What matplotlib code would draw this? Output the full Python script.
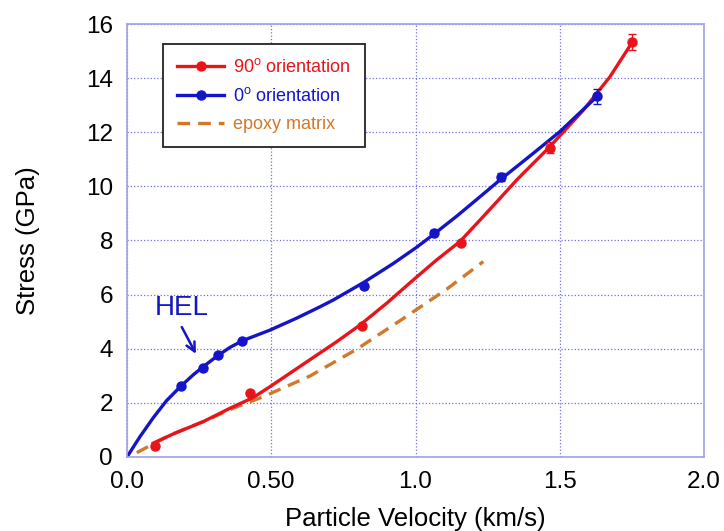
import matplotlib
matplotlib.use("Agg")
import matplotlib.pyplot as plt
from matplotlib.lines import Line2D

plt.rcParams['font.family'] = ['Liberation Sans', 'DejaVu Sans']

# measured points (km/s, GPa)
u90 = [0.096, 0.426, 0.813, 1.156, 1.465, 1.752]
s90 = [0.40, 2.35, 4.83, 7.91, 11.43, 15.34]
e90 = [0.05, 0.05, 0.05, 0.08, 0.2, 0.3]

u0 = [0.187, 0.264, 0.315, 0.399, 0.823, 1.065, 1.297, 1.630]
s0 = [2.64, 3.29, 3.77, 4.29, 6.33, 8.29, 10.36, 13.33]
e0 = [0.05, 0.05, 0.05, 0.05, 0.08, 0.1, 0.15, 0.28]

# fit curves
fit90_u = [0.091, 0.16, 0.265, 0.357, 0.438, 0.496, 0.646, 0.727, 0.808, 0.9, 0.992,
           1.073, 1.154, 1.224, 1.293, 1.351, 1.466, 1.582, 1.674, 1.749]
fit90_s = [0.51, 0.85, 1.31, 1.80, 2.2, 2.6, 3.68, 4.26, 4.88, 5.68, 6.54,
           7.28, 7.96, 8.76, 9.56, 10.24, 11.47, 12.82, 14.05, 15.29]

fit0_u = [0.0, 0.045, 0.091, 0.137, 0.187, 0.23, 0.267, 0.314, 0.357, 0.401, 0.496,
          0.588, 0.669, 0.715, 0.819, 0.923, 1.004, 1.062, 1.143, 1.224, 1.293,
          1.408, 1.5, 1.628]
fit0_s = [0.0, 0.75, 1.45, 2.08, 2.62, 3.04, 3.36, 3.74, 4.05, 4.3, 4.69,
          5.13, 5.55, 5.8, 6.44, 7.15, 7.75, 8.22, 8.9, 9.62, 10.24,
          11.22, 12.02, 13.31]

epoxy_u = [0.034, 0.149, 0.265, 0.368, 0.473, 0.634, 0.796, 0.958, 1.108, 1.235]
epoxy_s = [0.16, 0.81, 1.31, 1.8, 2.23, 2.99, 3.98, 5.12, 6.2, 7.22]

xticks = [0.0, 0.5, 1.0, 1.5, 2.0]
xticklabels = ['0.0', '0.50', '1.0', '1.5', '2.0']
yticks = [0, 2, 4, 6, 8, 10, 12, 14, 16]

red = '#e8141c'
blue = '#1414c8'
orange = '#d2782a'

fig = plt.figure(figsize=(7.24, 5.31), dpi=100)
ax = fig.add_axes([0.1754, 0.1394, 0.797, 0.8154])

ax.plot(epoxy_u, epoxy_s, '--', color=orange, lw=2.4, dashes=(3.8, 2.4))
ax.plot(fit90_u, fit90_s, '-', color=red, lw=2.4, solid_joinstyle='round')
ax.plot(fit0_u, fit0_s, '-', color=blue, lw=2.4, solid_joinstyle='round')
ax.errorbar(u90, s90, yerr=e90, fmt='o', color=red, ms=6.5, capsize=3, elinewidth=1)
ax.errorbar(u0, s0, yerr=e0, fmt='o', color=blue, ms=6.5, capsize=3, elinewidth=1)

ax.text(0.19, 5.5, 'HEL', color=blue, fontsize=20, ha='center', va='center')
ax.annotate('', xy=(0.239, 3.81), xytext=(0.19, 4.8),
            arrowprops=dict(arrowstyle='->', color=blue, lw=1.8, shrinkA=0, shrinkB=0,
                            mutation_scale=16))

ax.set_xlim(0, 2.0)
ax.set_ylim(0, 16)
ax.set_xticks(xticks)
ax.set_xticklabels(xticklabels)
ax.set_yticks(yticks)
ax.tick_params(labelsize=17.5, length=0, pad=10)
ax.grid(True, color='#7070e0', linestyle=':', linewidth=0.9)
for sp in ax.spines.values():
    sp.set_color('#a0a0e6')
    sp.set_linewidth(1.2)
ax.set_xlabel('Particle Velocity (km/s)', fontsize=18.5, va='top')
ax.set_ylabel('Stress (GPa)', fontsize=18.5)
ax.xaxis.set_label_coords(0.5, -0.115)
ax.yaxis.set_label_coords(-0.15, 0.5)

handles = [Line2D([], [], color=red, lw=2.4, marker='o', ms=6.5),
           Line2D([], [], color=blue, lw=2.4, marker='o', ms=6.5),
           Line2D([], [], color=orange, lw=2.4, ls='--', dashes=(3.8, 2.4))]
labels = ['90$^\\mathregular{o}$ orientation', '0$^\\mathregular{o}$ orientation', 'epoxy matrix']
leg = ax.legend(handles, labels, loc='upper left', bbox_to_anchor=(0.0624, 0.954),
                fontsize=13, labelcolor=[red, blue, orange], fancybox=False,
                edgecolor='#222222', framealpha=1, handlelength=2.6, handletextpad=0.5,
                borderpad=0.8, labelspacing=0.6, borderaxespad=0)
leg.get_frame().set_linewidth(1.3)

fig.savefig('out.png', dpi=100)
